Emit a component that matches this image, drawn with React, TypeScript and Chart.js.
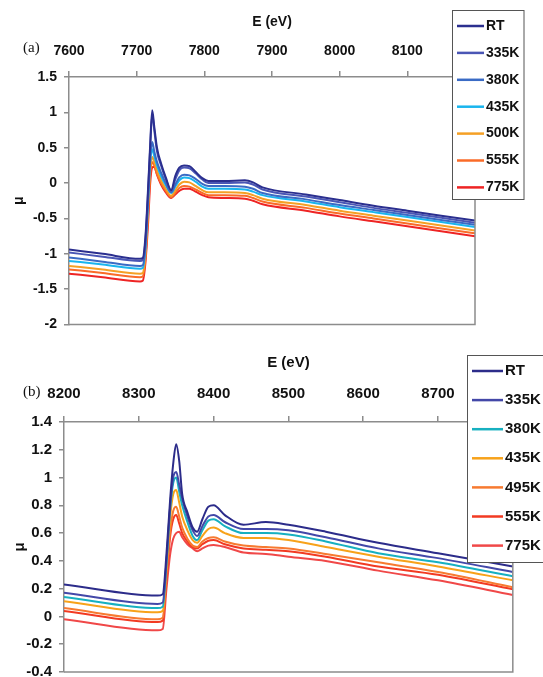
import React, { useEffect, useRef } from 'react';
import { Chart, registerables } from 'chart.js';

Chart.register(...registerables);
Chart.defaults.font.family = "'Liberation Sans', Arial, sans-serif";

// ---------- Panel (a) data ----------
const namesA = ['RT', '335K', '380K', '435K', '500K', '555K', '775K'];
const colorsA = ['#2b2f8f', '#4a56b5', '#3a6bc5', '#19b5ee', '#f5a025', '#fa6b28', '#ee2424'];
const energyA = [7600, 7650, 7705, 7709, 7713, 7717, 7720, 7723, 7726, 7730, 7736, 7743, 7751, 7757, 7763, 7770, 7778, 7787, 7797, 7806, 7830, 7860, 7872, 7886, 7950, 8000, 8050, 8100, 8150, 8200];
const rtA = [-0.94, -1.0, -1.07, -1.06, -0.75, -0.05, 0.55, 1.03, 0.8, 0.5, 0.28, 0.08, -0.1, 0.1, 0.22, 0.25, 0.24, 0.16, 0.07, 0.03, 0.03, 0.04, 0.01, -0.06, -0.16, -0.24, -0.32, -0.39, -0.46, -0.53];
const k335A = [-0.98, -1.04, -1.1, -1.09, -0.8, -0.1, 0.5, 0.97, 0.75, 0.45, 0.25, 0.06, -0.11, 0.05, 0.18, 0.22, 0.21, 0.14, 0.05, 0.0, 0.0, 0.01, -0.02, -0.09, -0.19, -0.27, -0.35, -0.42, -0.49, -0.56];
const k380A = [-1.05, -1.11, -1.17, -1.16, -0.88, -0.2, 0.35, 0.58, 0.45, 0.3, 0.15, 0.0, -0.13, -0.02, 0.08, 0.12, 0.11, 0.06, -0.01, -0.04, -0.04, -0.05, -0.08, -0.14, -0.23, -0.31, -0.38, -0.45, -0.52, -0.59];
const k435A = [-1.1, -1.15, -1.21, -1.2, -0.92, -0.25, 0.3, 0.48, 0.38, 0.25, 0.1, -0.03, -0.14, -0.05, 0.04, 0.08, 0.07, 0.02, -0.05, -0.08, -0.08, -0.09, -0.12, -0.17, -0.26, -0.34, -0.41, -0.48, -0.55, -0.62];
const k500A = [-1.17, -1.22, -1.28, -1.27, -1.0, -0.35, 0.2, 0.37, 0.3, 0.18, 0.04, -0.08, -0.18, -0.1, -0.02, 0.02, 0.01, -0.04, -0.1, -0.13, -0.13, -0.14, -0.17, -0.22, -0.31, -0.39, -0.46, -0.53, -0.6, -0.67];
const k555A = [-1.22, -1.27, -1.33, -1.32, -1.05, -0.42, 0.12, 0.3, 0.25, 0.13, 0.0, -0.11, -0.2, -0.14, -0.07, -0.04, -0.05, -0.09, -0.14, -0.17, -0.17, -0.18, -0.21, -0.26, -0.35, -0.43, -0.5, -0.57, -0.64, -0.71];
const k775A = [-1.28, -1.33, -1.39, -1.38, -1.12, -0.55, 0.0, 0.22, 0.23, 0.12, -0.02, -0.13, -0.21, -0.16, -0.11, -0.08, -0.08, -0.12, -0.17, -0.2, -0.21, -0.22, -0.25, -0.3, -0.39, -0.47, -0.54, -0.61, -0.68, -0.75];
const xTicksA = [7600, 7700, 7800, 7900, 8000, 8100, 8200];
const yTicksA = [-2, -1.5, -1, -0.5, 0, 0.5, 1, 1.5];

// ---------- Panel (b) data ----------
const namesB = ['RT', '335K', '380K', '435K', '495K', '555K', '775K'];
const colorsB = ['#2c2c8a', '#4348a8', '#17b0c0', '#f7a21a', '#f77a30', '#f23a22', '#f04848'];
const energyB = [8200, 8325, 8332, 8337, 8342, 8346, 8350, 8354, 8358, 8365, 8372, 8378, 8385, 8393, 8400, 8415, 8440, 8470, 8500, 8550, 8620, 8700, 8800];
const rtB = [0.23, 0.15, 0.16, 0.45, 0.85, 1.1, 1.24, 1.12, 0.88, 0.75, 0.64, 0.61, 0.7, 0.79, 0.8, 0.73, 0.66, 0.68, 0.66, 0.61, 0.53, 0.455, 0.36];
const k335B = [0.17, 0.09, 0.1, 0.4, 0.8, 1.0, 1.04, 0.95, 0.85, 0.72, 0.62, 0.58, 0.65, 0.72, 0.73, 0.68, 0.63, 0.63, 0.62, 0.57, 0.49, 0.42, 0.32];
const k380B = [0.14, 0.06, 0.07, 0.38, 0.78, 0.96, 1.0, 0.9, 0.8, 0.68, 0.58, 0.55, 0.62, 0.69, 0.7, 0.65, 0.6, 0.6, 0.59, 0.54, 0.455, 0.39, 0.29];
const k435B = [0.11, 0.03, 0.04, 0.35, 0.72, 0.88, 0.91, 0.82, 0.72, 0.62, 0.55, 0.53, 0.58, 0.63, 0.64, 0.6, 0.565, 0.565, 0.55, 0.5, 0.43, 0.36, 0.26];
const k495B = [0.06, -0.02, -0.01, 0.3, 0.62, 0.76, 0.79, 0.72, 0.64, 0.56, 0.51, 0.5, 0.54, 0.565, 0.57, 0.54, 0.51, 0.5, 0.49, 0.45, 0.39, 0.32, 0.21];
const k555B = [0.04, -0.04, -0.03, 0.27, 0.58, 0.7, 0.73, 0.67, 0.6, 0.54, 0.5, 0.49, 0.52, 0.545, 0.55, 0.52, 0.49, 0.48, 0.47, 0.43, 0.36, 0.3, 0.195];
const k775B = [-0.02, -0.1, -0.09, 0.2, 0.45, 0.56, 0.6, 0.61, 0.57, 0.52, 0.49, 0.47, 0.49, 0.51, 0.515, 0.5, 0.46, 0.45, 0.43, 0.4, 0.33, 0.26, 0.155];
const xTicksB = [8200, 8300, 8400, 8500, 8600, 8700, 8800];
const yTicksB = [-0.4, -0.2, 0, 0.2, 0.4, 0.6, 0.8, 1, 1.2, 1.4];

type Panel = {
  energy: number[];
  series: number[][];
  names: string[];
  colors: string[];
  xTicks: number[];
  yTicks: number[];
  tag: string;
  layout: any;
};

const W = 543;

const panelA: Panel = {
  energy: energyA,
  series: [rtA, k335A, k380A, k435A, k500A, k555A, k775A],
  names: namesA,
  colors: colorsA,
  xTicks: xTicksA,
  yTicks: yTicksA,
  tag: '(a)',
  layout: {
    top: 0, height: 340, plotLeft: 69, plotRight: 475, plotTop: 77, plotBottom: 325,
    font: 14, titlePad: 14, yTitlePad: 11, xTickPad: 11, yTickPad: 7,
    legend: { left: 452, top: 10, right: 523.5, bottom: 199, firstY: 26, stepY: 26.9, lineX1: 457, lineX2: 484, textX: 486 },
    tagX: 23, tagY: 48, tagFont: 15,
  },
};

const panelB: Panel = {
  energy: energyB,
  series: [rtB, k335B, k380B, k435B, k495B, k555B, k775B],
  names: namesB,
  colors: colorsB,
  xTicks: xTicksB,
  yTicks: yTicksB,
  tag: '(b)',
  layout: {
    top: 340, height: 350, plotLeft: 64, plotRight: 515, plotTop: 82, plotBottom: 332,
    font: 15, titlePad: 13.5, yTitlePad: 11, xTickPad: 13.5, yTickPad: 7,
    legend: { left: 467, top: 15, right: 560, bottom: 222, firstY: 31, stepY: 29.1, lineX1: 472, lineX2: 503, textX: 505 },
    tagX: 23, tagY: 52, tagFont: 15,
  },
};

const AXIS = '#8c8c8c';
const TEXT = '#111111';

function buildChart(canvas: HTMLCanvasElement, p: Panel) {
  const L = p.layout;
  const decor = {
    id: 'decor',
    afterDraw(chart: any) {
      const ctx = chart.ctx as CanvasRenderingContext2D;
      const a = chart.chartArea;
      ctx.save();
      ctx.strokeStyle = AXIS;
      ctx.lineWidth = 1.5;
      ctx.beginPath();
      ctx.moveTo(a.right, a.top);
      ctx.lineTo(a.right, a.bottom);
      ctx.lineTo(a.left, a.bottom);
      ctx.stroke();

      const g = L.legend;
      ctx.fillStyle = '#ffffff';
      ctx.fillRect(g.left, g.top, g.right - g.left, g.bottom - g.top);
      ctx.strokeStyle = '#555555';
      ctx.lineWidth = 1;
      ctx.strokeRect(g.left + 0.5, g.top + 0.5, g.right - g.left, g.bottom - g.top);
      ctx.font = `bold ${L.font}px 'Liberation Sans', Arial, sans-serif`;
      ctx.textBaseline = 'middle';
      ctx.textAlign = 'left';
      chart.data.datasets.forEach((ds: any, i: number) => {
        const y = g.firstY + i * g.stepY;
        ctx.strokeStyle = ds.borderColor;
        ctx.lineWidth = 2.5;
        ctx.beginPath();
        ctx.moveTo(g.lineX1, y);
        ctx.lineTo(g.lineX2, y);
        ctx.stroke();
        ctx.fillStyle = TEXT;
        ctx.fillText(ds.label, g.textX, y);
      });

      ctx.font = `${L.tagFont}px 'Liberation Serif', 'Times New Roman', serif`;
      ctx.fillStyle = TEXT;
      ctx.fillText(p.tag, L.tagX, L.tagY);
      ctx.restore();
    },
  };

  return new Chart(canvas, {
    type: 'line',
    data: {
      datasets: p.series.map((vals, i) => ({
        label: p.names[i],
        data: p.energy.map((e, j) => ({ x: e, y: vals[j] })),
        borderColor: p.colors[i],
        backgroundColor: p.colors[i],
        borderWidth: 2,
        pointRadius: 0,
        fill: false,
        cubicInterpolationMode: 'monotone',
      })),
    },
    options: {
      responsive: false,
      maintainAspectRatio: false,
      animation: false,
      layout: {
        padding: { left: 0, top: 0, right: W - L.plotRight, bottom: L.height - L.plotBottom },
      },
      plugins: { legend: { display: false }, tooltip: { enabled: false } },
      scales: {
        x: {
          type: 'linear',
          position: 'top',
          min: p.xTicks[0],
          max: p.xTicks[p.xTicks.length - 1],
          afterBuildTicks: (s: any) => {
            s.ticks = p.xTicks.map((v) => ({ value: v }));
          },
          afterFit: (s: any) => {
            s.height = L.plotTop;
          },
          grid: { drawOnChartArea: false, drawTicks: true, tickLength: 6, color: AXIS, lineWidth: 1.5 },
          border: { display: true, color: AXIS, width: 1.5 },
          ticks: {
            color: TEXT,
            font: { size: L.font, weight: 'bold' },
            padding: L.xTickPad,
            maxRotation: 0,
            autoSkip: false,
            callback: (v: any) => String(v),
          },
          title: {
            display: true,
            text: 'E (eV)',
            color: TEXT,
            font: { size: L.font, weight: 'bold' },
            padding: { top: L.titlePad, bottom: 0 },
          },
        },
        y: {
          type: 'linear',
          position: 'left',
          min: p.yTicks[0],
          max: p.yTicks[p.yTicks.length - 1],
          afterBuildTicks: (s: any) => {
            s.ticks = p.yTicks.map((v) => ({ value: v }));
          },
          afterFit: (s: any) => {
            s.width = L.plotLeft;
          },
          grid: { drawOnChartArea: false, drawTicks: true, tickLength: 5, color: AXIS, lineWidth: 1.5 },
          border: { display: true, color: AXIS, width: 1.5 },
          ticks: {
            color: TEXT,
            font: { size: L.font, weight: 'bold' },
            padding: L.yTickPad,
            autoSkip: false,
            callback: (v: any) => String(v),
          },
          title: {
            display: true,
            text: 'μ',
            color: TEXT,
            font: { size: L.font, weight: 'bold' },
            padding: { top: L.yTitlePad, bottom: 0 },
          },
        },
      },
    } as any,
    plugins: [decor],
  } as any);
}

function PanelChart({ p }: { p: Panel }) {
  const ref = useRef<HTMLCanvasElement | null>(null);
  useEffect(() => {
    if (!ref.current) return;
    const chart = buildChart(ref.current, p);
    return () => chart.destroy();
  }, [p]);
  return (
    <canvas
      ref={ref}
      width={W}
      height={p.layout.height}
      style={{ position: 'absolute', left: 0, top: p.layout.top, width: W, height: p.layout.height, display: 'block' }}
    />
  );
}

export default function App() {
  return (
    <div
      style={{
        position: 'fixed',
        left: 0,
        top: 0,
        width: W,
        height: 677,
        overflow: 'hidden',
        background: '#ffffff',
      }}
    >
      <PanelChart p={panelA} />
      <PanelChart p={panelB} />
    </div>
  );
}
